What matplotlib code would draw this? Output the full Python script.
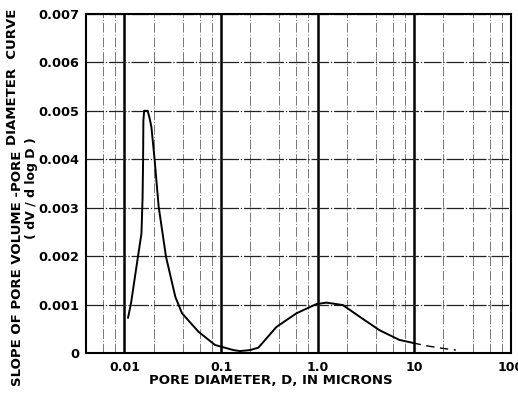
import matplotlib
matplotlib.use("Agg")
import matplotlib.pyplot as plt
from matplotlib.ticker import FixedLocator, NullFormatter

# Curve values (solid part)
diameter = [0.0109, 0.0117, 0.0138, 0.0150, 0.0154, 0.0156, 0.0157, 0.0160,
            0.0174, 0.0182, 0.0190, 0.0205, 0.0226, 0.0269, 0.0336, 0.0394,
            0.0583, 0.0867, 0.134, 0.157, 0.199, 0.243, 0.375, 0.603, 0.97,
            1.23, 1.82, 2.71, 4.36, 7.0, 9.6]
slope = [0.00073, 0.00103, 0.00199, 0.00247, 0.00320, 0.00400, 0.00480, 0.00500,
         0.00500, 0.00485, 0.00467, 0.00400, 0.00302, 0.00199, 0.00116, 0.00082,
         0.00044, 0.000165, 0.00006, 0.00004, 0.00006, 0.00011, 0.00054, 0.00082, 0.00101,
         0.00104, 0.00099, 0.00075, 0.00047, 0.00027, 0.00021]

# Dashed extrapolated part
diameter_ext = [9.6, 13.2, 19.0, 26.9]
slope_ext = [0.00021, 0.00015, 0.00010, 0.00006]

x_ticks = [0.01, 0.1, 1.0, 10, 100]
x_ticklabels = ["0.01", "0.1", "1.0", "10", "100"]
y_ticks = [0, 0.001, 0.002, 0.003, 0.004, 0.005, 0.006, 0.007]
y_ticklabels = ["0", "0.001", "0.002", "0.003", "0.004", "0.005", "0.006", "0.007"]
minor_x = [0.006, 0.008] + [m * d for d in (0.01, 0.1, 1, 10) for m in (2, 4, 6, 8)]

plt.rcParams["font.family"] = ["DejaVu Sans"]
plt.rcParams["font.weight"] = "bold"

fig = plt.figure(figsize=(5.18, 3.99), dpi=100)
ax = fig.add_axes([0.166, 0.1153, 0.8205, 0.8497])

ax.set_xscale("log")
ax.set_xlim(0.004, 100)
ax.set_ylim(0, 0.007)

# grid
ax.xaxis.set_major_locator(FixedLocator(x_ticks))
ax.xaxis.set_minor_locator(FixedLocator(minor_x))
ax.xaxis.set_minor_formatter(NullFormatter())
ax.set_xticklabels(x_ticklabels)
ax.set_yticks(y_ticks)
ax.set_yticklabels(y_ticklabels)
ax.grid(True, which="major", axis="x", color="black", lw=1.8, ls="-")
ax.grid(True, which="minor", axis="x", color="#777777", lw=0.7, ls=(0, (10, 2, 1, 2)))
ax.grid(True, which="major", axis="y", color="#222222", lw=0.9, ls=(0, (14, 1.5, 1, 1.5)))
ax.tick_params(which="both", length=0)
ax.tick_params(axis="x", pad=6, labelsize=9)
ax.tick_params(axis="y", pad=5, labelsize=9.3)

for s in ax.spines.values():
    s.set_linewidth(1.5)

ax.plot(diameter, slope, color="black", lw=1.4, zorder=5)
ax.plot(diameter_ext, slope_ext, color="black", lw=1.0, ls=(0, (6, 4)), zorder=5)

fig.text(271 / 518, 1 - 381 / 399, "PORE DIAMETER, D, IN MICRONS",
         ha="center", va="center", fontsize=9.5, fontweight="bold")
fig.text(18 / 518, 1 - 268 / 399, "SLOPE OF PORE VOLUME -PORE",
         ha="center", va="center", rotation=90, fontsize=9.5, fontweight="bold")
fig.text(13 / 518, 1 - 77 / 399, "DIAMETER  CURVE",
         ha="center", va="center", rotation=90, fontsize=9.5, fontweight="bold")
fig.text(31 / 518, 1 - 188 / 399, "( dV / d log D )",
         ha="center", va="center", rotation=90, fontsize=9, fontweight="bold")

fig.savefig("out.png", dpi=100)
